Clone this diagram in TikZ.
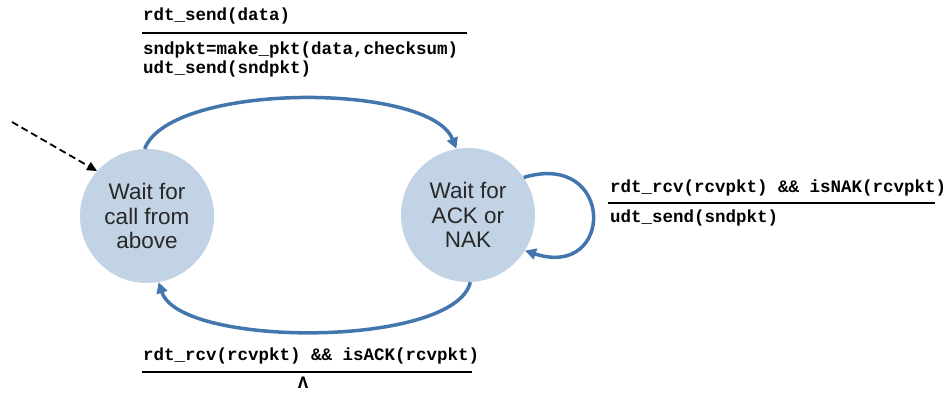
\documentclass[tikz,border=0pt]{standalone}
\usepackage{fontspec}
\setmainfont{Liberation Sans}
\setmonofont{Liberation Mono}
\usetikzlibrary{arrows.meta}
\definecolor{statefill}{RGB}{193,211,228}
\definecolor{transblue}{RGB}{66,118,172}
\definecolor{statetext}{RGB}{40,40,40}
\tikzset{
  state/.style = {circle, fill=statefill, text=statetext, minimum size=134pt, inner sep=0pt, align=center, font=\fontsize{22.5}{24.5}\selectfont},
  trans/.style = {draw=transblue, line width=3.5pt, -{Triangle[length=11pt, width=11pt]}},
  lbl/.style = {inner sep=0pt, font=\fontsize{17.5}{18.5}\selectfont\ttfamily\bfseries, align=left},
  guard/.style = {line width=1.6pt}
}
\begin{document}
\begin{tikzpicture}[x=1pt, y=-1pt]
\useasboundingbox (0,0) rectangle (950,397);
\node[state] (wait) at (147,216) {Wait for\\call from\\above};
\node[state] (ack) at (468,215) {Wait for\\ACK or\\NAK};
\coordinate (init) at (12,122);
\draw[line width=1.8pt, dash pattern=on 7pt off 4pt, -{Triangle[length=10pt, width=9pt]}] (init) -- (wait.138);
% transitions
\draw[trans] (wait.92) .. controls (170,82) and (430,82) .. (ack.100);
\draw[trans] (ack.-88) .. controls (455,348) and (180,348) .. (wait.-80);
\draw[trans] (ack.34) .. controls (615,150) and (615,280) .. (ack.-32);
% labels
\node[lbl, anchor=base west] (sendev) at (143,20) {rdt\_send(data)};
\node[lbl, anchor=base west] (sendact) at (143,73) {sndpkt=make\_pkt(data,checksum)\\udt\_send(sndpkt)};
\draw[guard] (142,33) -- (467,33);
\node[lbl, anchor=base west] (nakev) at (610,192) {rdt\_rcv(rcvpkt) \&\& isNAK(rcvpkt)};
\node[lbl, anchor=base west] (nakact) at (610,222) {udt\_send(sndpkt)};
\draw[guard] (608,203) -- (935,203);
\node[lbl, anchor=base west] (ackev) at (143,360) {rdt\_rcv(rcvpkt) \&\& isACK(rcvpkt)};
\draw[guard] (142,372) -- (472,372);
\node[lbl, anchor=base] (ackact) at (303,388) {Λ};
\end{tikzpicture}
\end{document}
